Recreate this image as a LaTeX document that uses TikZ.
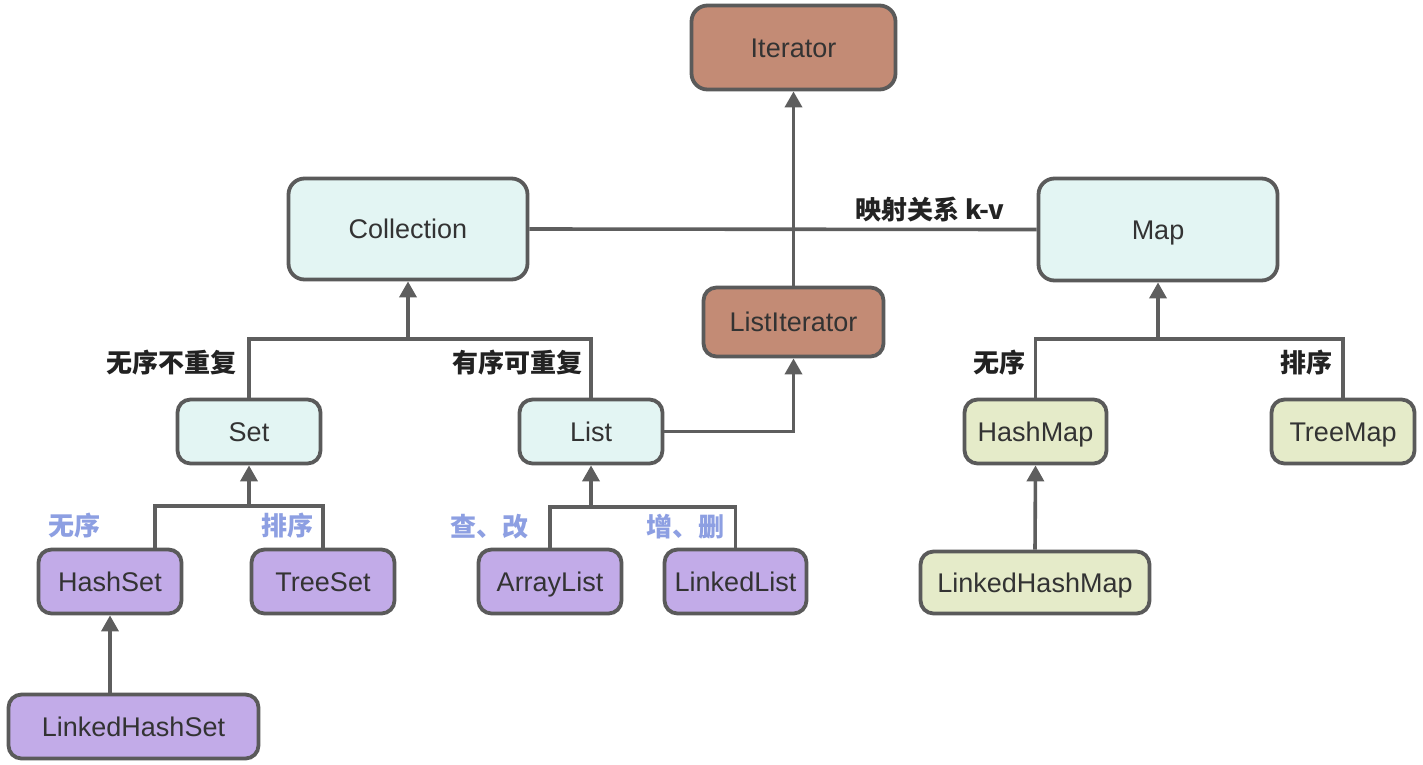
\documentclass[tikz,border=0pt]{standalone}
\usepackage{fontspec}
\setmainfont{Liberation Sans}
\newfontfamily\cjk{Noto Sans CJK SC}
\usetikzlibrary{arrows.meta}
\definecolor{bordc}{HTML}{5A5A5A}
\definecolor{linec}{HTML}{5E5E5E}
\definecolor{iterc}{HTML}{C38B75}
\definecolor{cyanc}{HTML}{E3F5F3}
\definecolor{purpc}{HTML}{C2ABE8}
\definecolor{greenc}{HTML}{E5EBC9}
\definecolor{txtc}{HTML}{333333}
\definecolor{bluec}{HTML}{8D9FE2}
\definecolor{blackl}{HTML}{222222}
\tikzset{
  box/.style 2 args={draw=bordc, line width=3.8pt, rounded corners=13pt,
    minimum width=#1, minimum height=#2, inner sep=0pt, text=txtc,
    text height=19.4pt, text depth=0pt,
    font=\fontsize{27}{30}\selectfont},
  ln/.style={draw=linec, line width=3.6pt},
  arr/.style={ln, -{Triangle[width=17pt,length=16pt]}},
  blab/.style={font=\cjk\bfseries\fontsize{26}{30}\selectfont, text=blackl, inner sep=0pt},
  ulab/.style={font=\cjk\bfseries\fontsize{26}{30}\selectfont, text=bluec, inner sep=0pt}
}
\begin{document}
\begin{tikzpicture}[x=1pt,y=-1pt]
\useasboundingbox[fill=white] (0,0) rectangle (1423,764);
% nodes
\node[box={204pt}{84pt}, fill=iterc, rounded corners=16pt] (it) at (793.5,47.5) {Iterator};
\node[box={239pt}{101pt}, fill=cyanc, rounded corners=16pt] (coll) at (408,229) {Collection};
\node[box={239pt}{102pt}, fill=cyanc, rounded corners=16pt] (map) at (1158,229.5) {Map};
\node[box={180pt}{69pt}, fill=iterc] (li) at (793.5,322) {ListIterator};
\node[box={143pt}{64pt}, fill=cyanc] (set) at (249,431.5) {Set};
\node[box={143pt}{64pt}, fill=cyanc] (list) at (591,431.5) {List};
\node[box={142pt}{64pt}, fill=greenc] (hm) at (1035.5,431.5) {HashMap};
\node[box={143pt}{64pt}, fill=greenc] (tm) at (1343,431.5) {TreeMap};
\node[box={143pt}{64pt}, fill=purpc] (hs) at (110,581.5) {HashSet};
\node[box={143pt}{64pt}, fill=purpc] (ts) at (323,581.5) {TreeSet};
\node[box={143pt}{64pt}, fill=purpc] (al) at (550,581.5) {ArrayList};
\node[box={142pt}{64pt}, fill=purpc] (ll) at (735.5,581.5) {LinkedList};
\node[box={229pt}{62pt}, fill=greenc] (lhm) at (1035,582.5) {LinkedHashMap};
\node[box={250pt}{64pt}, fill=purpc] (lhs) at (133.5,726.5) {LinkedHashSet};
% branch points
\coordinate (cb) at (408,339);
\coordinate (mb) at (1158,339);
\coordinate (sb) at (249,506);
\coordinate (lb) at (591,507);
% connectors
\draw[arr] (li.north) -- (it.south);
\draw[ln] (coll.east) -- (map.west);
\draw[arr] (set.north) |- (cb) -- (coll.south);
\draw[ln] (list.north) |- (cb);
\draw[arr] (list.east) -| (li.south);
\draw[arr] (hm.north) |- (mb) -- (map.south);
\draw[ln] (tm.north) |- (mb);
\draw[arr] ([xshift=45pt]hs.north) |- (sb) -- (set.south);
\draw[ln] (ts.north) |- (sb);
\draw[arr] (al.north) |- (lb) -- (list.south);
\draw[ln] (ll.north) |- (lb);
\draw[arr] (hs.south |- lhs.north) -- (hs.south);
\draw[arr] (lhm.north) -- (hm.south);
% labels
\node[blab] (lkv) at (930,210) {映射关系 k-v};
\node[blab] (lsetc) at (171,363) {无序不重复};
\node[blab] (llistc) at (517,363) {有序可重复};
\node[blab] (lhmc) at (999,363) {无序};
\node[blab] (ltmc) at (1306,363) {排序};
\node[ulab] (lhsc) at (74,526) {无序};
\node[ulab] (ltsc) at (287,526) {排序};
\node[ulab] (lalc) at (489,527) {查、改};
\node[ulab] (lllc) at (685,527) {增、删};
\end{tikzpicture}
\end{document}
